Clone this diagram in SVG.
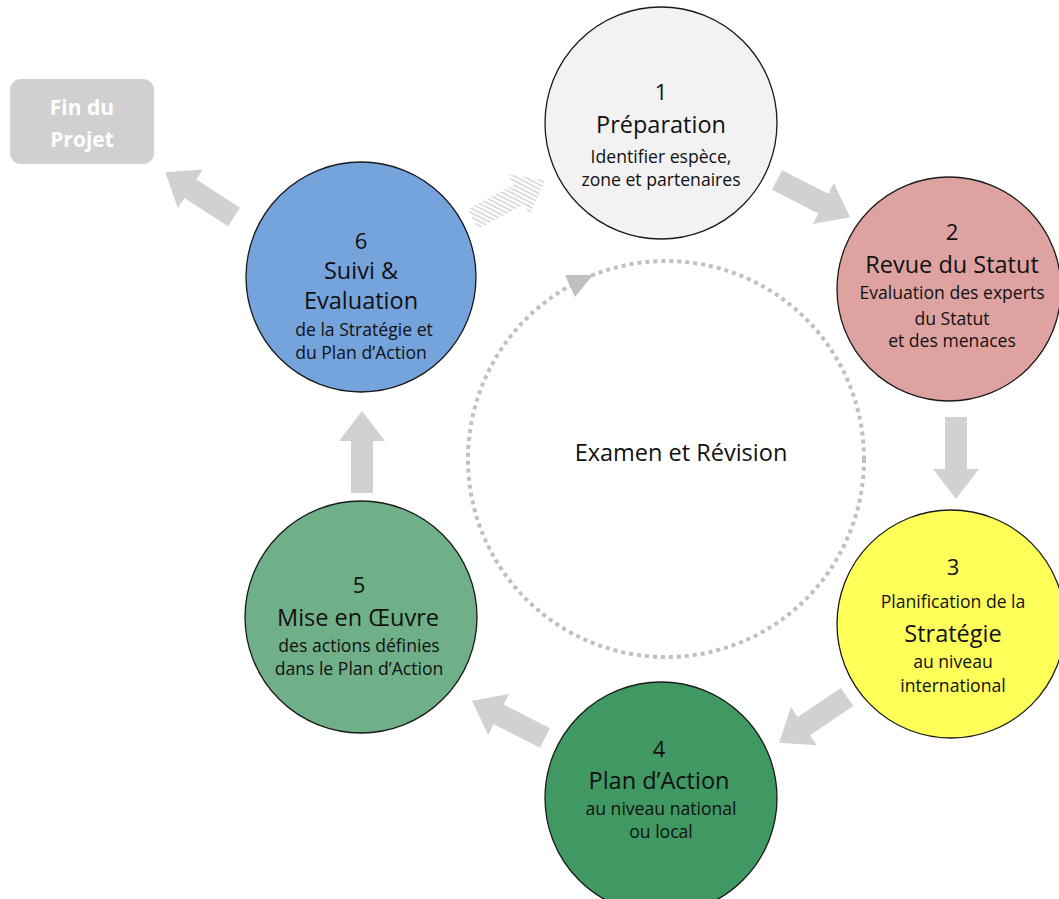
<svg xmlns="http://www.w3.org/2000/svg" width="1059" height="899" viewBox="0 0 1059 899">
<defs>
<style>
.node{stroke:#1a1a1a;stroke-width:1.3}
.t{font-family:"Open Sans","Noto Sans","Liberation Sans",sans-serif;fill:#111;text-anchor:middle}
.num{font-size:22px}
.ttl{font-size:23.5px}
.sub{font-size:17.6px}
.arr{fill:#d0d1d3}
</style>
<path id="ar" d="M0,-11 L52,-11 L52,-23 L82,0 L52,23 L52,11 L0,11 Z"/>
<pattern id="stripes" patternUnits="userSpaceOnUse" width="4" height="4" patternTransform="rotate(-35)">
<rect width="4" height="4" fill="#ffffff"/>
<rect width="1.5" height="4" fill="#d2d2d2"/>
</pattern>
</defs>
<rect width="1059" height="899" fill="#ffffff"/>

<g id="connectors">
<circle cx="666" cy="459" r="198" fill="none" stroke="#c0c0c0" stroke-width="4" stroke-dasharray="4 4"/>
<polygon points="565,275 575,297 593,275" fill="#c0c0c0"/>
<use href="#ar" class="arr" transform="translate(777,180) rotate(27)"/>
<use href="#ar" class="arr" transform="translate(956,417) rotate(90)"/>
<use href="#ar" class="arr" transform="translate(847,697) rotate(146)"/>
<use href="#ar" class="arr" transform="translate(545,738) rotate(207)"/>
<use href="#ar" class="arr" transform="translate(362,493) rotate(-90)"/>
<use href="#ar" class="arr" transform="translate(234,217) rotate(213)"/>
<use href="#ar" fill="url(#stripes)" transform="translate(473,219) rotate(-28)"/>
</g>

<g id="center-label">
<text class="t" x="681" y="461" style="font-size:23.5px">Examen et Révision</text>
</g>

<g id="fin">
<rect x="10" y="79" width="144" height="85" rx="11" fill="#d0d0d2"/>
<text class="t" x="82" y="115" style="font-size:21px;font-weight:bold;fill:#ffffff">Fin du</text>
<text class="t" x="82" y="147" style="font-size:21px;font-weight:bold;fill:#ffffff">Projet</text>
</g>

<g id="n1">
<circle class="node" cx="661" cy="123" r="116" fill="#f2f2f2"/>
<text class="t num" x="661" y="100">1</text>
<text class="t ttl" x="661" y="133">Préparation</text>
<text class="t sub" x="661" y="163">Identifier espèce,</text>
<text class="t sub" x="661" y="186">zone et partenaires</text>
</g>

<g id="n2">
<circle class="node" cx="949" cy="289" r="112" fill="#dea3a1"/>
<text class="t num" x="952" y="240">2</text>
<text class="t ttl" x="952" y="273">Revue du Statut</text>
<text class="t sub" x="952" y="299">Evaluation des experts</text>
<text class="t sub" x="952" y="325">du Statut</text>
<text class="t sub" x="952" y="347">et des menaces</text>
</g>

<g id="n3">
<circle class="node" cx="951" cy="624" r="114" fill="#ffff59"/>
<text class="t num" x="953" y="575">3</text>
<text class="t sub" x="953" y="608">Planification de la</text>
<text class="t ttl" x="953" y="642">Stratégie</text>
<text class="t sub" x="953" y="668">au niveau</text>
<text class="t sub" x="953" y="692">international</text>
</g>

<g id="n4">
<circle class="node" cx="661" cy="798" r="116" fill="#409862"/>
<text class="t num" x="659" y="757">4</text>
<text class="t ttl" x="659" y="789">Plan d’Action</text>
<text class="t sub" x="661" y="815">au niveau national</text>
<text class="t sub" x="661" y="838">ou local</text>
</g>

<g id="n5">
<circle class="node" cx="361" cy="617" r="116" fill="#70b088"/>
<text class="t num" x="359" y="593">5</text>
<text class="t ttl" x="358" y="626">Mise en Œuvre</text>
<text class="t sub" x="359" y="652">des actions définies</text>
<text class="t sub" x="359" y="675">dans le Plan d’Action</text>
</g>

<g id="n6">
<circle class="node" cx="361" cy="277" r="115" fill="#75a3dc"/>
<text class="t num" x="361" y="249">6</text>
<text class="t ttl" x="361" y="279">Suivi &amp;</text>
<text class="t ttl" x="361" y="309">Evaluation</text>
<text class="t sub" x="364" y="336">de la Stratégie et</text>
<text class="t sub" x="361" y="359">du Plan d’Action</text>
</g>
</svg>
